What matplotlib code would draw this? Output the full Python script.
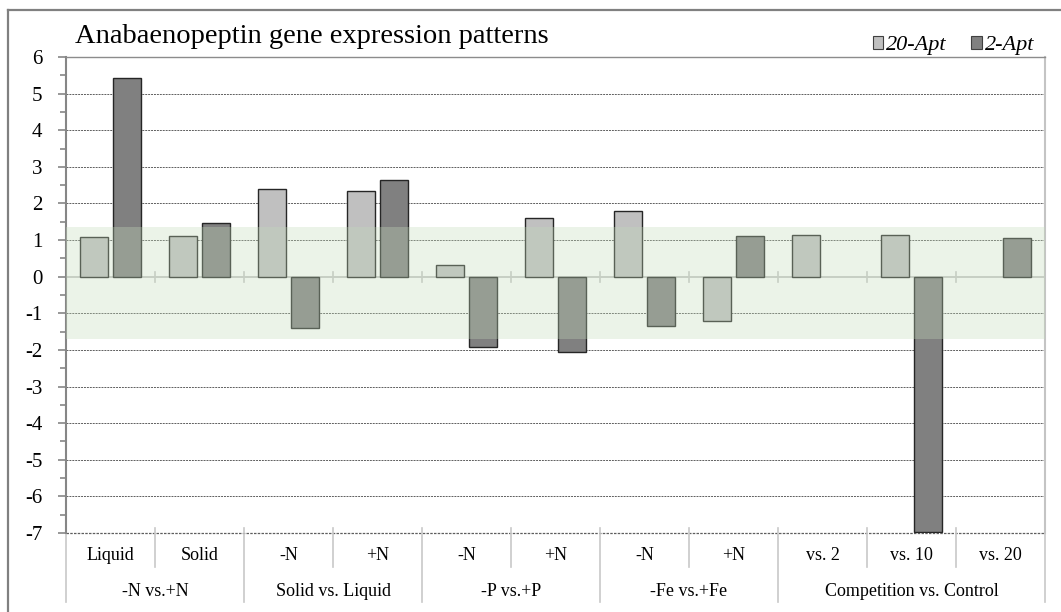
import numpy as np
import matplotlib
matplotlib.use("Agg")
import matplotlib.pyplot as plt
from matplotlib.lines import Line2D
from matplotlib.patches import Patch
from matplotlib.transforms import blended_transform_factory

# expression data (log2 fold change)
conditions = ["Liquid", "Solid", "-N", "+N", "-N", "+N", "-N", "+N",
              "vs. 2", "vs. 10", "vs. 20"]
groups = ["-N vs.+N", "Solid vs. Liquid", "-P vs.+P", "-Fe vs.+Fe",
          "Competition vs. Control"]
group_sizes = [2, 2, 2, 2, 3]
apt20 = [1.08, 1.12, 2.40, 2.33, 0.33, 1.61, 1.80, -1.20, 1.13, 1.14, np.nan]
apt2 = [5.43, 1.47, -1.40, 2.65, -1.93, -2.07, -1.34, 1.12, np.nan, -6.97, 1.07]
band_low, band_high = -1.70, 1.36

plt.rcParams['font.family'] = ['Liberation Serif', 'DejaVu Serif']

W, H = 1061, 612
fig = plt.figure(figsize=(W / 100, H / 100), dpi=100)
ax = fig.add_axes([66 / W, (H - 533) / H, (1045 - 66) / W, (533 - 57) / H])

n = len(conditions)
x = np.arange(n)
off, bw = 0.185, 0.315

ax.bar(x - off, apt20, bw, color='#c0c0c0', edgecolor='#262626', linewidth=1.0, zorder=3)
ax.bar(x + off, apt2, bw, color='#808080', edgecolor='#262626', linewidth=1.0, zorder=3)

# shaded "no change" band over the bars
ax.axhspan(band_low, band_high, color=(195 / 255, 219 / 255, 186 / 255), alpha=0.33,
           lw=0, zorder=4)

ax.set_xlim(-0.5, n - 0.5)
ax.set_ylim(-7, 6)
ax.set_yticks(range(-7, 7))
ax.set_yticks(np.arange(-6.5, 6, 1.0), minor=True)
ax.set_yticklabels([str(v) for v in range(-7, 7)], fontsize=15)
ax.tick_params(axis='y', which='major', length=6, width=1.2, color='#868686', pad=11)
ax.tick_params(axis='y', which='minor', length=4, width=1.2, color='#868686')
ax.set_xticks([])

for v in range(-6, 6):
    if v != 0:
        ax.axhline(v, color='#5e5e5e', lw=0.7, ls=(0, (2, 1)), zorder=1)
ax.axhline(-7, color='#5e5e5e', lw=0.9, ls=(0, (2, 1)), zorder=1, clip_on=False)

# category axis at zero with boundary ticks
ax.axhline(0, color='#c0c0c0', lw=1.2, zorder=2)
for b in np.arange(0.5, n - 0.5, 1.0):
    ax.plot([b, b], [-0.14, 0.14], color='#c8c8c8', lw=1.2, zorder=2)

ax.spines['bottom'].set_visible(False)
ax.spines['left'].set_color('#868686')
ax.spines['left'].set_linewidth(1.5)
ax.spines['top'].set_color('#8c8c8c')
ax.spines['top'].set_linewidth(1.0)
ax.spines['right'].set_color('#c4c4c4')
ax.spines['right'].set_linewidth(1.5)

# two-level category labels under the plot
trans = blended_transform_factory(ax.transData, fig.transFigure)
def fy(py):
    return (H - py) / H

for i, lab in enumerate(conditions):
    ax.text(i, fy(556), lab, transform=trans, ha='center', va='center', fontsize=13)

group_edges = np.concatenate([[0], np.cumsum(group_sizes)]) - 0.5
for k, g in enumerate(groups):
    mid = (group_edges[k] + group_edges[k + 1]) / 2
    ax.text(mid, fy(592), g, transform=trans, ha='center', va='center', fontsize=13)

for b in np.arange(-0.5, n, 1.0):
    bottom = 602 if np.any(np.isclose(b, group_edges)) else 567
    ax.add_line(Line2D([b, b], [fy(528), fy(bottom)], transform=trans,
                       color='#c8c8c8', lw=1.2, clip_on=False))

fig.text(75 / W, fy(43), "Anabaenopeptin gene expression patterns", fontsize=20.5,
         ha='left', va='baseline')

handles = [Patch(facecolor='#c0c0c0', edgecolor='#404040', lw=0.8, label='20-Apt'),
           Patch(facecolor='#808080', edgecolor='#404040', lw=0.8, label='2-Apt')]
fig.legend(handles=handles, loc='lower right', bbox_to_anchor=(1050 / W, fy(71)),
           ncol=2, frameon=False, handlelength=0.47, handleheight=0.47,
           handletextpad=0.15, columnspacing=1.1, borderpad=0.2,
           prop={'family': 'Liberation Serif', 'style': 'italic', 'size': 16})

# outer chart frame
fig.add_artist(Line2D([7.5 / W, 1], [fy(9.5), fy(9.5)], color='#808080', lw=1.6))
fig.add_artist(Line2D([7.5 / W, 7.5 / W], [fy(9.5), 0], color='#808080', lw=1.6))

fig.savefig("out.png", dpi=100)
